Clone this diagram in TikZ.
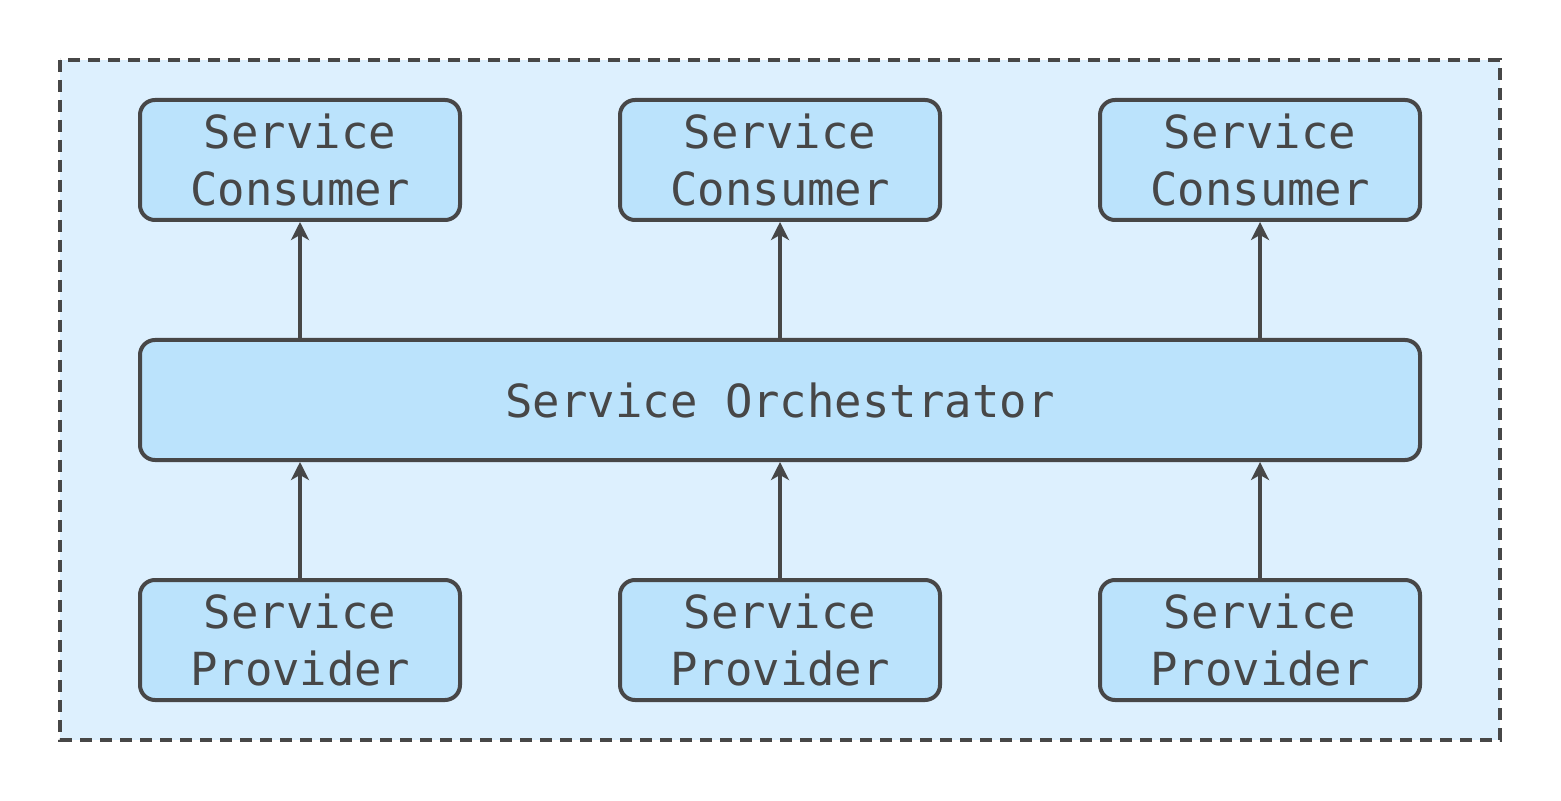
\documentclass[tikz,border=0pt]{standalone}
\usepackage{fontspec}
\setmonofont{DejaVu Sans Mono}
\usetikzlibrary{arrows.meta}
\definecolor{outerfill}{HTML}{DDF0FE}
\definecolor{boxfill}{HTML}{BBE3FC}
\definecolor{ink}{HTML}{474747}
\tikzset{
  x=0.5pt, y=-0.5pt,
  svcbox/.style={draw=ink, fill=boxfill, line width=2pt, rounded corners=7.5pt,
    minimum width=160pt, minimum height=60pt, inner sep=0pt, align=center,
    text=ink, font=\ttfamily\fontsize{22.8}{28.5}\selectfont},
  flow/.style={draw=ink, line width=2pt, -{Stealth[length=9pt,width=9pt,inset=2.5pt]}},
}
\begin{document}
\begin{tikzpicture}
\useasboundingbox (0,0) rectangle (1561,801);
\fill[white] (0,0) rectangle (1561,801);
\draw[ink, fill=outerfill, line width=2pt, dash pattern=on 6pt off 4pt] (60,60) rectangle (1500,740);
\node[svcbox] (c1) at (300,160) {Service\\Consumer};
\node[svcbox] (c2) at (780,160) {Service\\Consumer};
\node[svcbox] (c3) at (1260,160) {Service\\Consumer};
\node[svcbox, minimum width=640pt] (o) at (780,400) {Service Orchestrator};
\node[svcbox] (p1) at (300,640) {Service\\Provider};
\node[svcbox] (p2) at (780,640) {Service\\Provider};
\node[svcbox] (p3) at (1260,640) {Service\\Provider};
\draw[flow] (o.north -| c1) -- (c1.south);
\draw[flow] (o.north -| c2) -- (c2.south);
\draw[flow] (o.north -| c3) -- (c3.south);
\draw[flow] (p1.north) -- (p1 |- o.south);
\draw[flow] (p2.north) -- (p2 |- o.south);
\draw[flow] (p3.north) -- (p3 |- o.south);
\end{tikzpicture}
\end{document}
